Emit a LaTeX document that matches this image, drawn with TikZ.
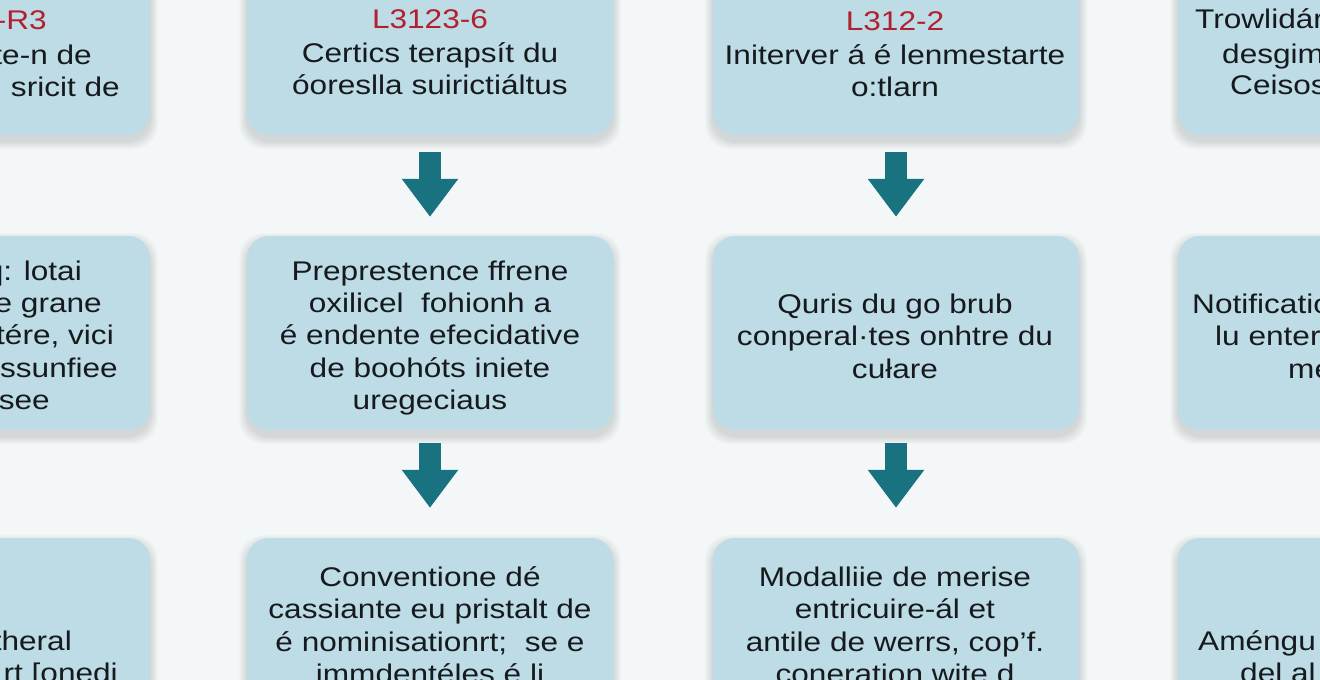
\documentclass[tikz,border=0pt]{standalone}
\usepackage{fontspec}
\setmainfont[FakeStretch=1.17]{Liberation Sans}
\usetikzlibrary{arrows.meta}
\definecolor{bg}{RGB}{244,247,248}
\definecolor{boxfill}{RGB}{189,220,230}
\definecolor{flowteal}{RGB}{24,114,128}
\definecolor{lab}{RGB}{178,32,46}
\definecolor{ink}{RGB}{22,26,30}
\begin{document}
\begin{tikzpicture}[x=1pt,y=-1pt,
  card/.style={fill=boxfill, rounded corners=22pt, minimum width=366pt, minimum height=194pt, inner sep=0pt, draw=none},
  txt/.style={font=\fontsize{27}{32}\selectfont, text=ink, inner sep=0pt},
  lbl/.style={font=\fontsize{27}{32}\selectfont, text=lab, inner sep=0pt},
  flow/.style={draw=flowteal, line width=22pt, -{Triangle[width=54pt,length=38pt]}}
]
\useasboundingbox (0,0) rectangle (1320,680);
\clip (0,0) rectangle (1320,680);
\fill[bg] (0,0) rectangle (1320,680);
% soft shadows
\foreach \cx in {-33,430,896,1361}{
  \foreach \cy in {38,333,635}{
    \foreach \i in {1,...,8}{
      \fill[black,opacity=0.016,rounded corners=24pt] ({\cx-183-\i},{\cy-97-\i+5}) rectangle ({\cx+183+\i},{\cy+97+\i+6});
    }
  }
}
% cards
\node[card] (b11) at (-33,38) {};
\node[card] (b12) at (430,38) {};
\node[card] (b13) at (896,38) {};
\node[card] (b14) at (1361,38) {};
\node[card] (b21) at (-33,333) {};
\node[card] (b22) at (430,333) {};
\node[card] (b23) at (896,333) {};
\node[card] (b24) at (1361,333) {};
\node[card] (b31) at (-33,635) {};
\node[card] (b32) at (430,635) {};
\node[card] (b33) at (896,635) {};
\node[card] (b34) at (1361,635) {};
% arrows
\foreach \c in {1,2,3,4}{
  \draw[flow] ([yshift=-17pt]b1\c.south) -- ([yshift=19pt]b2\c.north);
  \draw[flow] ([yshift=-13pt]b2\c.south) -- ([yshift=30pt]b3\c.north);
}
% column 1 (clipped)
\node[lbl,anchor=base east] (t11a) at (47,29) {L31-R3};
\node[txt,anchor=base east] (t11b) at (92,64) {Carte-n de};
\node[txt,anchor=base east] (t11c) at (120,96) {sricit de};
\node[txt,anchor=base east] (t21a) at (82,280) {q: lotai};
\node[txt,anchor=base east] (t21b) at (102,312) {e grane};
\node[txt,anchor=base east] (t21c) at (114,344) {tére, vici};
\node[txt,anchor=base east] (t21d) at (118,377) {rssunfiee};
\node[txt,anchor=base east] (t21e) at (50,409) {see};
\node[txt,anchor=base east] (t31a) at (72,650) {theral};
\node[txt,anchor=base east] (t31b) at (118,682) {rt [onedi};
% column 2
\node[lbl,anchor=base] (t12a) at (430,28) {L3123-6};
\node[txt,anchor=base] (t12b) at (430,62) {Certics terapsít du};
\node[txt,anchor=base] (t12c) at (430,94) {óoreslla suirictiáltus};
\node[txt,anchor=base] (t22a) at (430,280) {Preprestence ffrene};
\node[txt,anchor=base] (t22b) at (430,312) {oxilicel\ \ fohionh a};
\node[txt,anchor=base] (t22c) at (430,344) {é endente efecidative};
\node[txt,anchor=base] (t22d) at (430,377) {de boohóts iniete};
\node[txt,anchor=base] (t22e) at (430,409) {uregeciaus};
\node[txt,anchor=base] (t32a) at (430,586) {Conventione dé};
\node[txt,anchor=base] (t32b) at (430,618) {cassiante eu pristalt de};
\node[txt,anchor=base] (t32c) at (430,651) {é nominisationrt;\ \ se e};
\node[txt,anchor=base] (t32d) at (430,683) {immdentéles é li};
% column 3
\node[lbl,anchor=base] (t13a) at (895,30) {L312-2};
\node[txt,anchor=base] (t13b) at (895,64) {Initerver á é lenmestarte};
\node[txt,anchor=base] (t13c) at (895,96) {o:tlarn};
\node[txt,anchor=base] (t23a) at (895,313) {Quris du go brub};
\node[txt,anchor=base] (t23b) at (895,345) {conperal·tes onhtre du};
\node[txt,anchor=base] (t23c) at (895,378) {cułare};
\node[txt,anchor=base] (t33a) at (895,586) {Modalliie de merise};
\node[txt,anchor=base] (t33b) at (895,618) {entricuire-ál et};
\node[txt,anchor=base] (t33c) at (895,651) {antile de werrs, cop'f.};
\node[txt,anchor=base] (t33d) at (895,683) {coneration wite d};
% column 4 (clipped)
\node[txt,anchor=base west] (t14a) at (1195,28) {Trowlidár};
\node[txt,anchor=base west] (t14b) at (1222,63) {desgim};
\node[txt,anchor=base west] (t14c) at (1230,94) {Ceisos};
\node[txt,anchor=base west] (t24a) at (1192,313) {Notification};
\node[txt,anchor=base west] (t24b) at (1215,345) {lu entere};
\node[txt,anchor=base west] (t24c) at (1288,378) {mer};
\node[txt,anchor=base west] (t34a) at (1198,650) {Améngu};
\node[txt,anchor=base west] (t34b) at (1240,682) {del al};
\end{tikzpicture}
\end{document}
